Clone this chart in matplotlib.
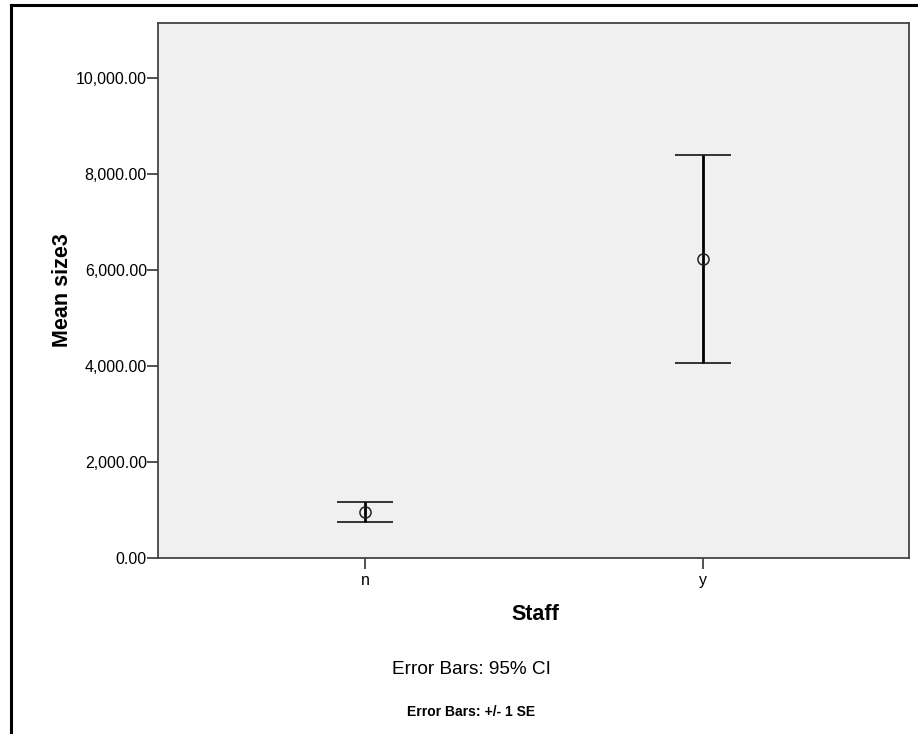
import matplotlib.pyplot as plt
from matplotlib.lines import Line2D

categories = ['n', 'y']
means = [958, 6230]
err_low = [208, 2160]
err_high = [208, 2160]
yticks = [0, 2000, 4000, 6000, 8000, 10000]

W, H = 918, 734
fig = plt.figure(figsize=(W / 100, H / 100), dpi=100)
fig.patch.set_facecolor('white')
ax = fig.add_axes([158 / W, 1 - 558 / H, (909 - 158) / W, (558 - 23) / H])
ax.set_facecolor('#f0f0f0')

xpos = list(range(len(categories)))
ax.errorbar(xpos, means, yerr=[err_low, err_high], fmt='o', mfc='none', mec='#222222',
            ms=8, mew=1.1, ecolor='black', elinewidth=2, capsize=20, capthick=1.6)

ax.set_xlim(-0.612, 1.609)
ax.set_ylim(0, 11146)
ax.set_xticks(xpos)
ax.set_xticklabels(categories, fontsize=11.5, family='Liberation Sans')
ax.set_yticks(yticks)
ax.set_yticklabels([f'{v:,.2f}' for v in yticks], fontsize=11.5, family='Liberation Sans')
ax.tick_params(direction='out', length=8, width=1.2, color='#333333')
ax.tick_params(axis='y', pad=0)
ax.tick_params(axis='x', pad=3)
for s in ax.spines.values():
    s.set_color('#444444')
    s.set_linewidth(1.3)

ax.set_ylabel('Mean size3', fontsize=15.5, fontweight='bold', family='Liberation Sans', va='center')
ax.yaxis.set_label_coords(-0.127, 0.501)
ax.set_xlabel('Staff', fontsize=15.5, fontweight='bold', family='Liberation Sans', va='center')
ax.xaxis.set_label_coords(0.502, -0.1065)

fig.text(471 / W, 1 - 670 / H, 'Error Bars: 95% CI', ha='center', va='center',
         fontsize=13.7, family='Liberation Sans')
fig.text(471 / W, 1 - 712 / H, 'Error Bars: +/- 1 SE', ha='center', va='center',
         fontsize=10, fontweight='bold', family='Liberation Sans')

# outer frame (top and left edges)
fig.add_artist(Line2D([11 / W, 1], [1 - 5 / H, 1 - 5 / H], color='black', lw=2.2))
fig.add_artist(Line2D([11 / W, 11 / W], [0, 1 - 5 / H], color='black', lw=2.2))

fig.savefig('out.png', dpi=100)
